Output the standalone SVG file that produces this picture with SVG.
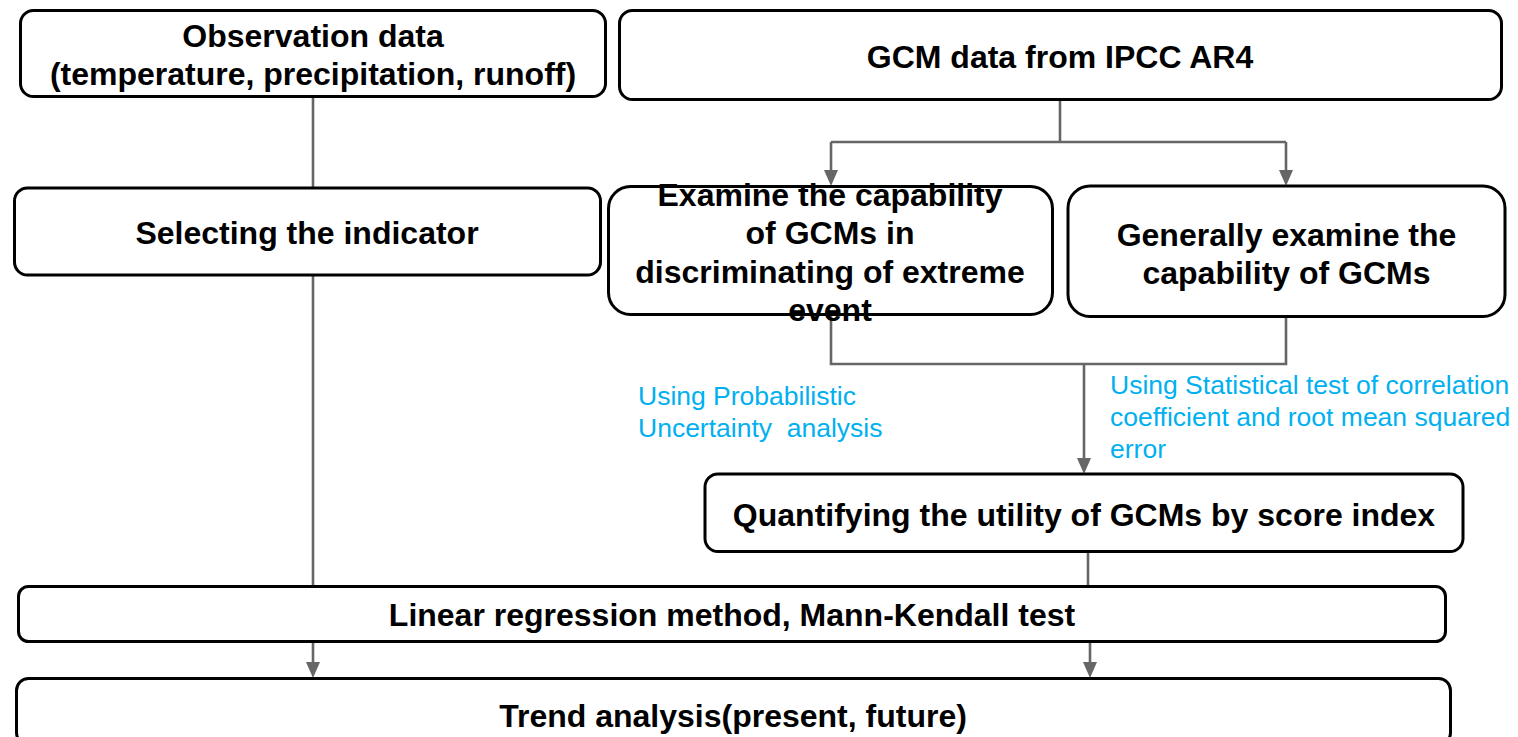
<svg xmlns="http://www.w3.org/2000/svg" width="1518" height="737" viewBox="0 0 1518 737">
  <style>
    .box { fill: #ffffff; stroke: #000000; stroke-width: 3; }
    .lbl { font-family: "Liberation Sans", Arial, sans-serif; font-weight: bold; font-size: 32px; fill: #000000; text-anchor: middle; }
    .note { font-family: "Liberation Sans", Arial, sans-serif; font-size: 26.5px; fill: #00B0F0; white-space: pre; }
    .wire { fill: none; stroke: #666666; stroke-width: 2.6; }
    .head { fill: #666666; }
  </style>
  <defs>
    <!-- downward arrowhead, tip at the origin -->
    <path id="head" class="head" d="M-7,-16 L7,-16 L0,0 Z"/>
  </defs>

  <rect width="1518" height="737" fill="#ffffff"/>

  <!-- connectors -->
  <g id="connectors">
    <line class="wire" x1="313" y1="96" x2="313" y2="188"/>
    <line class="wire" x1="313" y1="275" x2="313" y2="586"/>
    <path class="wire" d="M1060,100 V142 M831,142 H1286"/>
    <line class="wire" x1="831" y1="142" x2="831" y2="180"/>
    <line class="wire" x1="1286" y1="142" x2="1286" y2="180"/>
    <path class="wire" d="M831,314 V364 H1286 V316"/>
    <line class="wire" x1="1084" y1="364" x2="1084" y2="468"/>
    <line class="wire" x1="1088" y1="552" x2="1088" y2="586"/>
    <line class="wire" x1="313" y1="642" x2="313" y2="672"/>
    <line class="wire" x1="1090" y1="642" x2="1090" y2="672"/>
    <use href="#head" x="831" y="186"/>
    <use href="#head" x="1286" y="186"/>
    <use href="#head" x="1084" y="474"/>
    <use href="#head" x="313" y="678"/>
    <use href="#head" x="1090" y="678"/>
  </g>

  <g id="observation">
    <rect class="box" x="20.5" y="10.5" width="585" height="86" rx="13"/>
    <text class="lbl" x="313" y="47">Observation data</text>
    <text class="lbl" x="313" y="85">(temperature, precipitation, runoff)</text>
  </g>

  <g id="gcm-data">
    <rect class="box" x="619.5" y="10.5" width="882" height="89" rx="13"/>
    <text class="lbl" x="1060" y="68">GCM data from IPCC AR4</text>
  </g>

  <g id="selecting">
    <rect class="box" x="14.5" y="188" width="586" height="87" rx="13"/>
    <text class="lbl" x="307" y="244">Selecting the indicator</text>
  </g>

  <g id="extreme">
    <rect class="box" x="608.5" y="186.5" width="444" height="128" rx="22"/>
    <text class="lbl" x="830" y="206">Examine the capability</text>
    <text class="lbl" x="830" y="244.4">of GCMs in</text>
    <text class="lbl" x="830" y="282.8">discriminating of extreme</text>
    <text class="lbl" x="830" y="321.2">event</text>
  </g>

  <g id="general">
    <rect class="box" x="1068" y="186" width="437" height="130.5" rx="22"/>
    <text class="lbl" x="1286.5" y="246">Generally examine the</text>
    <text class="lbl" x="1286.5" y="284.4">capability of GCMs</text>
  </g>

  <g id="note-probabilistic">
    <text class="note" x="638" y="405">Using Probabilistic</text>
    <text class="note" x="638" y="437">Uncertainty  analysis</text>
  </g>

  <g id="note-statistical">
    <text class="note" x="1110" y="394">Using Statistical test of correlation</text>
    <text class="note" x="1110" y="426">coefficient and root mean squared</text>
    <text class="note" x="1110" y="458">error</text>
  </g>

  <g id="score">
    <rect class="box" x="705" y="474" width="758" height="77.5" rx="13"/>
    <text class="lbl" x="1084" y="526">Quantifying the utility of GCMs by score index</text>
  </g>

  <g id="regression">
    <rect class="box" x="18.5" y="586.5" width="1427" height="55" rx="10"/>
    <text class="lbl" x="732" y="626">Linear regression method, Mann-Kendall test</text>
  </g>

  <g id="trend">
    <rect class="box" x="16.5" y="678.5" width="1434" height="66" rx="12"/>
    <text class="lbl" x="733" y="727">Trend analysis(present, future)</text>
  </g>
</svg>
